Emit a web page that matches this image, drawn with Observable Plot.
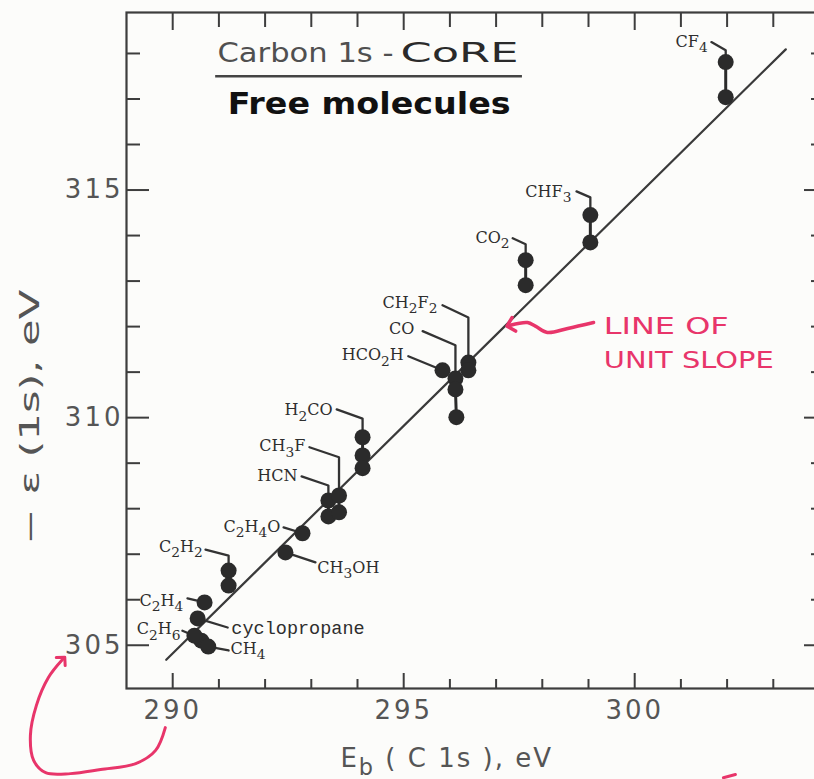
<!DOCTYPE html>
<html><head><meta charset="utf-8">
<script src="https://cdn.jsdelivr.net/npm/d3@7"></script>
<script src="https://cdn.jsdelivr.net/npm/@observablehq/plot@0.6"></script>
<style>
html,body{margin:0;padding:0;overflow:hidden;background:#fcfcfa;}
</style></head><body><div id="chart"></div>
<script>
// ---- axes ----
const xDomain = [289, 304];
const yDomain = [304.05, 318.9];
const xMajor = [290, 295, 300];
const xMinor = [291, 292, 293, 294, 296, 297, 298, 299, 301, 302, 303];
const yMajor = [305, 310, 315];
const yMinor = [306, 307, 308, 309, 311, 312, 313, 314, 316, 317, 318];

// ---- data points: Eb(C1s) vs -eps(1s) ----
const pointMolecule = ["CH4","CH4","C2H6","cyclopropane","C2H4","C2H2","C2H2","CH3OH","C2H4O","HCN","HCN","CH3F","CH3F","H2CO","H2CO","H2CO","HCO2H","CO","CO","CO","CH2F2","CH2F2","CO2","CO2","CHF3","CHF3","CF4","CF4"];
const pointEb = [290.62,290.77,290.47,290.54,290.69,291.21,291.21,292.44,292.81,293.37,293.37,293.60,293.60,294.11,294.11,294.11,295.84,296.12,296.12,296.14,296.40,296.40,297.64,297.64,299.04,299.04,301.97,301.97];
const pointEps = [305.10,304.97,305.21,305.59,305.94,306.64,306.31,307.04,307.46,308.18,307.83,308.29,307.92,309.57,309.17,308.89,311.04,310.86,310.62,310.01,311.21,311.04,313.46,312.91,314.45,313.85,317.81,317.04];

// ---- unit slope reference line ----
const unitSlopeEb = [289.86, 303.27];
const unitSlopeOffset = 14.82;

// ---- labels ----
const labelMolecule = ["CF4","CHF3","CO2","CH2F2","CO","HCO2H","H2CO","CH3F","HCN","C2H4O","CH3OH","C2H2","C2H4","cyclopropane","C2H6","CH4"];
const labelEb = [301.58,298.63,297.29,295.73,295.23,295.00,293.46,292.87,292.70,292.33,293.13,290.65,290.23,291.27,290.17,291.25];
const labelEps = [318.25,314.97,313.96,312.53,311.96,311.37,310.16,309.37,308.71,307.61,306.71,307.17,305.98,305.37,305.35,304.93];
const labelSide = ["end","end","end","end","end","end","end","end","end","end","start","end","end","start","end","start"];
const leaderEb = [
 [301.66,301.97,301.97],[298.74,299.04,299.04],[297.36,297.64,297.64],[295.84,296.40,296.40],
 [295.41,296.12,296.12],[295.10,295.84],[293.55,294.11,294.11],[292.96,293.60,293.60],
 [292.79,293.37,293.37],[292.40,292.81],[292.44,293.09],[290.71,291.21,291.21],
 [290.32,290.69],[290.54,291.19],[290.21,290.47],[290.77,291.21]];
const leaderEps = [
 [318.25,318.07,317.81],[314.97,314.84,314.45],[313.94,313.81,313.46],[312.47,312.20,311.21],
 [311.90,311.59,310.86],[311.35,311.04],[310.18,309.98,309.57],[309.35,309.13,308.29],
 [308.71,308.51,308.18],[307.59,307.46],[307.04,306.82],[307.10,306.97,306.64],
 [306.03,305.94],[305.59,305.39],[305.32,305.21],[304.97,304.885]];

// ---- annotation text ----
const titleTexts = ["Carbon 1s -", "CoRE", "Free molecules"];
const titleEb = [290.97, 294.93, 291.19];
const titleEps = [318.01, 318.01, 316.885];
const underlineEb = [290.93, 297.57];
const underlineEps = 317.50;
const noteTexts = ["LINE OF", "UNIT SLOPE"];
const noteEb = [299.33, 299.33];
const noteEps = [312.01, 311.26];
const arrowLineEb = [299.11, 298.55, 298.11, 297.85, 297.68, 297.31];
const arrowLineEps = [312.09, 311.96, 311.87, 312.01, 312.09, 312.03];
const arrowAxisEb = [289.84, 289.63, 289.20, 288.44, 287.79, 287.25, 286.99, 286.92, 287.05, 287.31, 287.62];
const arrowAxisEps = [303.19, 302.69, 302.40, 302.27, 302.18, 302.20, 302.47, 303.02, 303.68, 304.29, 304.69];
const redMarkEb = [301.92, 302.18];
const redMarkEps = [302.09, 302.16];
const xTitle = "E_b ( C 1s ), eV";
const yTitle = "− ε (1s), eV";

// ---- tables ----
const points = pointEb.map((x, i) => ({m: pointMolecule[i], x, y: pointEps[i]}));
const labels = labelMolecule.map((m, i) => ({m, x: labelEb[i], y: labelEps[i], side: labelSide[i]}));
const leaders = leaderEb.flatMap((xs, i) => xs.map((x, j) => ({m: labelMolecule[i], x, y: leaderEps[i][j]})));
const unitLine = unitSlopeEb.map(x => ({x, y: x + unitSlopeOffset}));
const titles = titleTexts.map((t, i) => ({t, x: titleEb[i], y: titleEps[i]}));
const notes = noteTexts.map((t, i) => ({t, x: noteEb[i], y: noteEps[i]}));
const arrow1 = arrowLineEb.map((x, i) => ({x, y: arrowLineEps[i]}));
const arrow2 = arrowAxisEb.map((x, i) => ({x, y: arrowAxisEps[i]}));
const redMark = redMarkEb.map((x, i) => ({x, y: redMarkEps[i]}));

const ink = "#333";
const axisInk = "#3d3d3d";
const grayText = "#555";
const red = "#e8356a";
const formulaLabels = labels.filter(d => d.m !== "cyclopropane");

const svg = Plot.plot({
  width: 814, height: 779,
  marginLeft: 126, marginRight: -5, marginTop: 12, marginBottom: 91,
  x: {domain: xDomain, label: null},
  y: {domain: yDomain, label: null},
  style: {background: "#fcfcfa", fontFamily: "DejaVu Sans", overflow: "hidden"},
  marks: [
    Plot.frame({stroke: axisInk, strokeWidth: 2.2}),
    // inward ticks
    Plot.axisX(xMajor, {anchor: "bottom", tickSize: -15, strokeWidth: 2, stroke: axisInk, tickFormat: () => "", label: null}),
    Plot.axisX(xMinor, {anchor: "bottom", tickSize: -9, strokeWidth: 2, stroke: axisInk, tickFormat: () => "", label: null}),
    Plot.axisX(xMajor, {anchor: "top", tickSize: -17, strokeWidth: 2, stroke: axisInk, tickFormat: () => "", label: null}),
    Plot.axisX(xMinor, {anchor: "top", tickSize: -14, strokeWidth: 2, stroke: axisInk, tickFormat: () => "", label: null}),
    Plot.axisY(yMajor, {anchor: "left", tickSize: -23, strokeWidth: 2, stroke: axisInk, tickFormat: () => "", label: null}),
    Plot.axisY(yMinor, {anchor: "left", tickSize: -14, strokeWidth: 2, stroke: axisInk, tickFormat: () => "", label: null}),
    Plot.axisY(yMajor, {anchor: "right", tickSize: -16, strokeWidth: 2, stroke: axisInk, tickFormat: () => "", label: null}),
    Plot.axisY(yMinor, {anchor: "right", tickSize: -9, strokeWidth: 2, stroke: axisInk, tickFormat: () => "", label: null}),
    // tick labels
    Plot.axisX(xMajor, {anchor: "bottom", tickSize: 0, tickPadding: 12, strokeOpacity: 0, fill: grayText, fontSize: 26, fontFamily: "DejaVu Sans", label: null}),
    Plot.axisY(yMajor, {anchor: "left", tickSize: 0, tickPadding: 3, strokeOpacity: 0, fill: grayText, fontSize: 26, fontFamily: "DejaVu Sans", label: null}),
    // unit slope line
    Plot.line(unitLine, {x: "x", y: "y", stroke: "#3a3a3a", strokeWidth: 2.2, strokeLinecap: "round"}),
    // leaders
    Plot.line(leaders, {x: "x", y: "y", z: "m", stroke: ink, strokeWidth: 2.3}),
    // connectors between the values of one molecule
    Plot.line(points, {x: "x", y: "y", z: "m", stroke: "#2b2b2b", strokeWidth: 3}),
    Plot.dot(points, {x: "x", y: "y", r: 8, fill: "#2b2b2b"}),
    // labels
    Plot.text(formulaLabels.filter(d => d.side === "end"), {x: "x", y: "y", text: "m", textAnchor: "end", lineAnchor: "middle", fontSize: 16, fontFamily: "DejaVu Serif", fill: "#2e2e2e"}),
    Plot.text(formulaLabels.filter(d => d.side === "start"), {x: "x", y: "y", text: "m", textAnchor: "start", lineAnchor: "middle", fontSize: 16, fontFamily: "DejaVu Serif", fill: "#2e2e2e"}),
    Plot.text(labels.filter(d => d.m === "cyclopropane"), {x: "x", y: "y", text: "m", textAnchor: "start", lineAnchor: "middle", fontSize: 18.5, fontFamily: "Liberation Mono", fill: "#2e2e2e"}),
    // title block
    Plot.text(titles.slice(0, 1), {x: "x", y: "y", text: "t", textAnchor: "start", lineAnchor: "middle", fontSize: 27, fill: "#505050"}),
    Plot.text(titles.slice(1, 2), {x: "x", y: "y", text: "t", textAnchor: "start", lineAnchor: "middle", fontSize: 27, fill: "#2a2a2a"}),
    Plot.ruleY([underlineEps], {x1: underlineEb[0], x2: underlineEb[1], stroke: "#444", strokeWidth: 2.5}),
    Plot.text(titles.slice(2), {x: "x", y: "y", text: "t", textAnchor: "start", lineAnchor: "middle", fontSize: 31, fontWeight: "bold", fill: "#111"}),
    // red notes
    Plot.text(notes, {x: "x", y: "y", text: "t", textAnchor: "start", lineAnchor: "middle", fontSize: 23, fill: red}),
    Plot.line(arrow1, {x: "x", y: "y", curve: "catmull-rom", stroke: red, strokeWidth: 3.5, markerEnd: "arrow"}),
    Plot.line(arrow2, {x: "x", y: "y", curve: "catmull-rom", stroke: red, strokeWidth: 3, markerEnd: "arrow"}),
    Plot.line(redMark, {x: "x", y: "y", stroke: red, strokeWidth: 3}),
    // axis titles
    Plot.text([xTitle], {x: 293.63, y: 302.51, text: d => d, textAnchor: "start", lineAnchor: "middle", fontSize: 26, fill: grayText}),
    Plot.text([yTitle], {x: 286.92, y: 310.01, text: d => d, rotate: -90, textAnchor: "middle", lineAnchor: "middle", fontSize: 26, fill: grayText})
  ]
});

// subscripts as tspans
function subscriptify(el, str, base, digits) {
  const parts = [];
  let i = 0;
  while (i < str.length) {
    if (str[i] === "_") { parts.push({t: str[i + 1], sub: true}); i += 2; }
    else if (digits && /\d/.test(str[i])) {
      let j = i; while (j < str.length && /\d/.test(str[j])) j++;
      parts.push({t: str.slice(i, j), sub: true}); i = j;
    } else {
      let j = i; while (j < str.length && str[j] !== "_" && !(digits && /\d/.test(str[j]))) j++;
      parts.push({t: str.slice(i, j), sub: false}); i = j;
    }
  }
  el.textContent = "";
  const shift = 0.32 * base;
  let down = false;
  for (const p of parts) {
    const ts = document.createElementNS("http://www.w3.org/2000/svg", "tspan");
    ts.textContent = p.t;
    if (p.sub && !down) { ts.setAttribute("dy", shift); down = true; }
    if (!p.sub && down) { ts.setAttribute("dy", -shift); down = false; }
    if (p.sub) ts.setAttribute("font-size", 0.86 * base);
    el.appendChild(ts);
  }
}
const formulaSet = new Set(labelMolecule.filter(m => /\d/.test(m)));
const lengths = {"Carbon 1s -": 176, "CoRE": 118, "Free molecules": 283, "LINE OF": 125, "UNIT SLOPE": 170, "− ε (1s), eV": 255};
d3.select(svg).selectAll("text").each(function() {
  const t = this.textContent;
  if (formulaSet.has(t)) { subscriptify(this, t, 16, true); return; }
  if (t === xTitle) { subscriptify(this, t, 26, false); this.style.letterSpacing = "2px"; return; }
  if (lengths[t]) { this.setAttribute("textLength", lengths[t]); this.setAttribute("lengthAdjust", "spacingAndGlyphs"); }
  if (/^\d{3}$/.test(t)) this.style.letterSpacing = "3px";
});
document.getElementById("chart").appendChild(svg);
</script></body></html>
